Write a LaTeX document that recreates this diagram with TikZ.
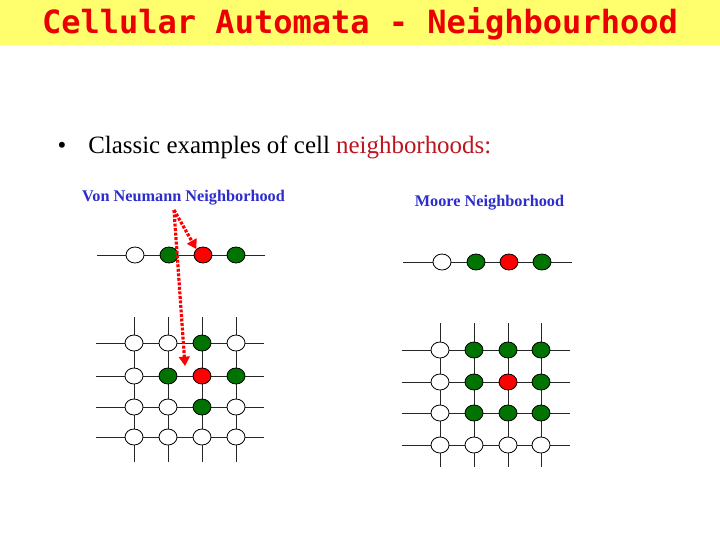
\documentclass[tikz,border=0pt]{standalone}
\usepackage{fontspec}
\setmainfont{Liberation Serif}
\newfontfamily\titlefont{DejaVu Sans Mono}
\usetikzlibrary{shapes.geometric,arrows.meta}
\definecolor{titleyellow}{RGB}{255,255,110}
\definecolor{titlered}{RGB}{235,0,0}
\definecolor{labelblue}{RGB}{45,45,205}
\definecolor{cellgreen}{RGB}{0,115,0}
\definecolor{cellred}{RGB}{255,0,0}
\definecolor{textred}{RGB}{190,20,30}
\tikzset{
  cell/.style={ellipse,draw=black,line width=0.6pt,minimum width=13.5pt,minimum height=12pt,inner sep=0pt},
  wc/.style={cell,fill=white},
  gc/.style={cell,fill=cellgreen},
  rc/.style={cell,fill=cellred},
  gridline/.style={line width=0.65pt,draw=black!85},
  ptr/.style={draw=cellred,line width=2.4pt,dash pattern=on 2.2pt off 1.2pt,-{Triangle[length=7pt,width=8pt]}},
  lbl/.style={text=labelblue,font=\bfseries\fontsize{12.2}{14}\selectfont},
}
\begin{document}
\begin{tikzpicture}[x=0.75pt,y=-0.75pt]
\fill[white] (0,0) rectangle (720,540);
\useasboundingbox (0,0) rectangle (720,540);
\fill[titleyellow] (0,0) rectangle (720,45);
\node[text=titlered,font=\titlefont\bfseries\fontsize{24}{28}\selectfont] (title) at (360,23.5) {Cellular Automata - Neighbourhood};
% bullet
\node[font=\fontsize{18.7}{22}\selectfont,anchor=base] (dot) at (62,153) {\textbullet};
\node[font=\fontsize{18.7}{22}\selectfont,anchor=base west,inner sep=0pt] (bullet) at (88,153) {Classic examples of cell \textcolor{textred}{neighborhoods:}};
% labels
\node[lbl] (vnlabel) at (183.5,198) {Von Neumann Neighborhood};
\node[lbl] (mlabel) at (489.5,203) {Moore Neighborhood};
% ---- VN 1D row
\coordinate (vna) at (97,255); \coordinate (vnb) at (265,255);
\draw[gridline] (vna) -- (vnb);
\node[wc] (v1) at (135,255) {};
\node[gc] (v2) at (169,255) {};
\node[rc] (v3) at (203,255) {};
\node[gc] (v4) at (236,255) {};
% ---- Moore 1D row
\coordinate (ma) at (403,262); \coordinate (mb) at (572,262);
\draw[gridline] (ma) -- (mb);
\node[wc] (m1) at (442,262) {};
\node[gc] (m2) at (476,262) {};
\node[rc] (m3) at (509,262) {};
\node[gc] (m4) at (542,262) {};
% ---- VN grid
\foreach \y/\r in {343/1,376/2,407/3,437/4}{
  \coordinate (vgl\r) at (96,\y); \coordinate (vgr\r) at (264,\y);
  \draw[gridline] (vgl\r) -- (vgr\r);
}
\foreach \x/\c in {134/1,168/2,202/3,236/4}{
  \coordinate (vgt\c) at (\x,317); \coordinate (vgb\c) at (\x,462);
  \draw[gridline] (vgt\c) -- (vgb\c);
}
\foreach \y/\r/\a/\b/\cc/\d in {343/1/wc/wc/gc/wc,376/2/wc/gc/rc/gc,407/3/wc/wc/gc/wc,437/4/wc/wc/wc/wc}{
  \node[\a] (vg\r-1) at (134,\y) {};
  \node[\b] (vg\r-2) at (168,\y) {};
  \node[\cc] (vg\r-3) at (202,\y) {};
  \node[\d] (vg\r-4) at (236,\y) {};
}
% ---- Moore grid
\foreach \y/\r in {350/1,382/2,413/3,445/4}{
  \coordinate (mgl\r) at (402,\y); \coordinate (mgr\r) at (570,\y);
  \draw[gridline] (mgl\r) -- (mgr\r);
}
\foreach \x/\c in {440/1,474/2,508/3,541/4}{
  \coordinate (mgt\c) at (\x,323); \coordinate (mgb\c) at (\x,467);
  \draw[gridline] (mgt\c) -- (mgb\c);
}
\foreach \y/\r/\a/\b/\cc/\d in {350/1/wc/gc/gc/gc,382/2/wc/gc/rc/gc,413/3/wc/gc/gc/gc,445/4/wc/wc/wc/wc}{
  \node[\a] (mg\r-1) at (440,\y) {};
  \node[\b] (mg\r-2) at (474,\y) {};
  \node[\cc] (mg\r-3) at (508,\y) {};
  \node[\d] (mg\r-4) at (541,\y) {};
}
% ---- pointer arrows
\coordinate (pstart) at (174,210);
\coordinate (pend) at (185,366);
\draw[ptr] (pstart) -- (v3.north west);
\draw[ptr] (pstart) -- (pend);
\end{tikzpicture}
\end{document}
